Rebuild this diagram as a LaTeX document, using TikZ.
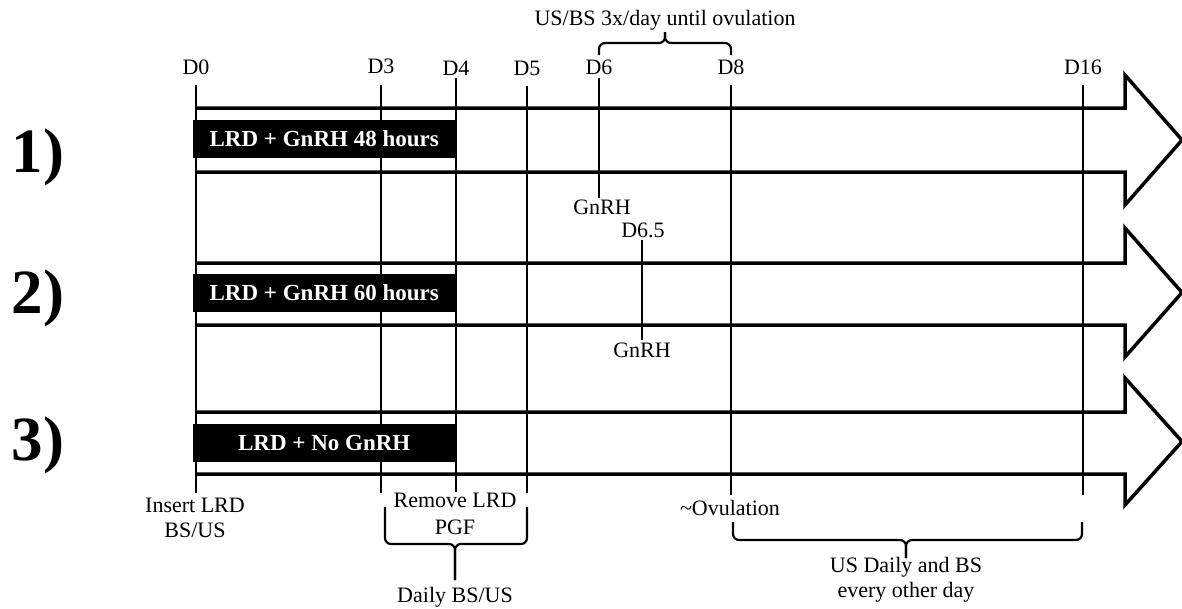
\documentclass[tikz,border=0pt]{standalone}
\usepackage{fontspec}
\setmainfont{Liberation Serif}
\begin{document}
\begin{tikzpicture}[x=1pt,y=-1pt,
  shaft/.style={line width=3.5pt, line join=miter},
  tick/.style={line width=2.2pt},
  brc/.style={line width=2.2pt, rounded corners=6pt},
  lbl/.style={inner sep=0pt, anchor=base, font=\fontsize{22}{25}\selectfont},
  boxlbl/.style={fill=black, text=white, font=\bfseries\fontsize{23}{26}\selectfont,
    minimum width=262pt, minimum height=38pt, inner sep=0pt, anchor=west},
  rowlbl/.style={font=\bfseries\fontsize{63}{63}\selectfont, inner sep=0pt, anchor=base}
]
\useasboundingbox (0,0) rectangle (1182,608);

% big arrows
\foreach \t/\b/\ht/\hb in {108/172/75/205, 263/325/228/357, 412/474/378/505}{
  \draw[shaft] (196,\t) -- (1125,\t) -- (1125,\ht) -- (1182,{(\ht+\hb)/2})
    -- (1125,\hb) -- (1125,\b) -- (196,\b);
}

% day labels
\node[lbl] (d0)  at (196,74) {D0};
\node[lbl] (d3)  at (381,73) {D3};
\node[lbl] (d4)  at (456,75) {D4};
\node[lbl] (d5)  at (527,75) {D5};
\node[lbl] (d6)  at (599,74) {D6};
\node[lbl] (d8)  at (731,74) {D8};
\node[lbl] (d16) at (1083,74) {D16};

% vertical day lines
\coordinate (l0a) at (196,85);  \coordinate (l0b) at (196,493);
\coordinate (l3a) at (381,85);  \coordinate (l3b) at (381,493);
\coordinate (l4a) at (456,78);  \coordinate (l4b) at (456,492);
\coordinate (l5a) at (527,86);  \coordinate (l5b) at (527,493);
\coordinate (l6a) at (599,78);  \coordinate (l6b) at (599,198);
\coordinate (l8a) at (731,85);  \coordinate (l8b) at (731,495);
\coordinate (l16a) at (1083,85); \coordinate (l16b) at (1083,495);
\coordinate (l65a) at (642,240); \coordinate (l65b) at (642,340);
\foreach \n in {0,3,4,5,6,8,16,65}{ \draw[tick] (l\n a) -- (l\n b); }

% treatment boxes
\node[boxlbl] (b1) at (193,139) {LRD + GnRH 48 hours};
\node[boxlbl] (b2) at (193,293) {LRD + GnRH 60 hours};
\node[boxlbl] (b3) at (193,443) {LRD + No GnRH};

% row labels
\node[rowlbl] (r1) at (38,172) {1)};
\node[rowlbl] (r2) at (38,313) {2)};
\node[rowlbl] (r3) at (38,460) {3)};

% GnRH labels
\node[lbl] (g1) at (602,214) {GnRH};
\node[lbl] (d65) at (643,237) {D6.5};
\node[lbl] (g2) at (642,357) {GnRH};

% top brace
\draw[brc] (599,55) |- (665,43) -- (665,32);
\draw[brc] (731,55) |- (665,43) -- (665,32);
\node[lbl] (top) at (665,25) {US/BS 3x/day until ovulation};

% bottom labels
\node[lbl] (ins1) at (195,512) {Insert LRD};
\node[lbl] (ins2) at (195,537) {BS/US};
\node[lbl] (rem1) at (455,507) {Remove LRD};
\node[lbl] (rem2) at (455,534) {PGF};
\draw[brc] (385,507) |- (455,544) -- (455,580);
\draw[brc] (527,507) |- (455,544) -- (455,580);
\node[lbl] (daily) at (455,602) {Daily BS/US};

\node[lbl] (ovu) at (730,515) {\textasciitilde Ovulation};
\draw[brc] (733,522) |- (906,540) -- (906,558);
\draw[brc] (1082,522) |- (906,540) -- (906,558);
\node[lbl] (usd1) at (906,572) {US Daily and BS};
\node[lbl] (usd2) at (906,597) {every other day};
\end{tikzpicture}
\end{document}
